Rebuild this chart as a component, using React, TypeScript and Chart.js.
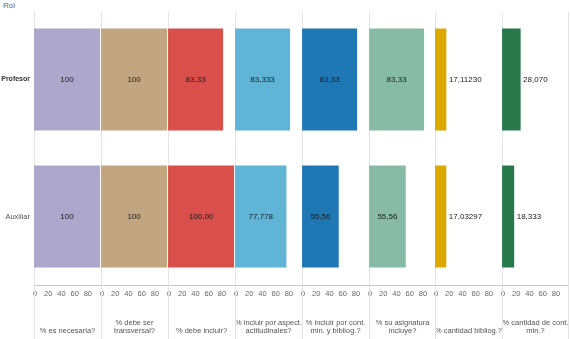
import React, { useEffect, useRef } from 'react';
import { Chart, registerables } from 'chart.js';

Chart.register(...registerables);

const roles = ['Profesor', 'Auxiliar'];
const measures: string[][] = [
  ['% es necesaria?'],
  ['% debe ser', 'transversal?'],
  ['% debe incluir?'],
  ['% incluir por aspect.', 'actitudinales?'],
  ['% incluir por cont.', 'min. y bibliog.?'],
  ['% su asignatura', 'incluye?'],
  ['% cantidad bibliog.?'],
  ['% cantidad de cont.', 'min.?'],
];
const profesorValues = [100, 100, 83.33, 83.333, 83.33, 83.33, 17.1123, 28.07];
const auxiliarValues = [100, 100, 100, 77.778, 55.56, 55.56, 17.03297, 18.333];
const profesorLabels = ['100', '100', '83,33', '83,333', '83,33', '83,33', '17,11230', '28,070'];
const auxiliarLabels = ['100', '100', '100,00', '77,778', '55,56', '55,56', '17,03297', '18,333'];
const barColors = ['#ADA7CB', '#C2A581', '#D84F4C', '#60B4D6', '#1F77B4', '#87BBA6', '#DBA901', '#27784A'];
const xTicks = [0, 20, 40, 60, 80];

const FONT = "'Liberation Sans', Arial, sans-serif";
const PAD = 6;
const PANEL_W = 67;

const separatorPlugin = {
  id: 'separator',
  beforeDatasetsDraw(chart: any, _args: any, opts: any) {
    const { ctx, chartArea } = chart;
    ctx.save();
    ctx.strokeStyle = '#e4e4e4';
    ctx.lineWidth = 1;
    ctx.beginPath();
    const x = Math.round(chartArea.left) + 0.5;
    ctx.moveTo(x, 12);
    ctx.lineTo(x, chart.height);
    if (opts && opts.last) {
      const xr = Math.round(chartArea.right) - 0.5;
      ctx.moveTo(xr, 12);
      ctx.lineTo(xr, chart.height);
    }
    ctx.stroke();
    ctx.restore();
  },
};

const valuePlugin = {
  id: 'valueText',
  afterDatasetsDraw(chart: any) {
    const { ctx } = chart;
    ctx.save();
    ctx.font = `8px ${FONT}`;
    ctx.fillStyle = '#1c1c1c';
    ctx.textBaseline = 'middle';
    chart.data.datasets.forEach((ds: any, di: number) => {
      const meta = chart.getDatasetMeta(di);
      meta.data.forEach((bar: any, i: number) => {
        const text = ds.valueLabels[i];
        const w = ctx.measureText(text).width;
        const barW = bar.x - bar.base;
        if (barW > w + 6) {
          ctx.textAlign = 'center';
          ctx.fillText(text, (bar.x + bar.base) / 2, bar.y);
        } else {
          ctx.textAlign = 'left';
          ctx.fillText(text, bar.x + 2.5, bar.y);
        }
      });
    });
    ctx.restore();
  },
};

function Panel({ index }: { index: number }) {
  const ref = useRef<HTMLCanvasElement>(null);
  const first = index === 0;
  const last = index === measures.length - 1;
  const lineX = Math.round(34 + index * 66.9);
  const left = first ? 0 : lineX - PAD;
  const width = first ? lineX + PANEL_W : PANEL_W + PAD;

  useEffect(() => {
    const chart = new Chart(ref.current as HTMLCanvasElement, {
      type: 'bar',
      data: {
        labels: roles,
        datasets: [
          {
            data: [profesorValues[index], auxiliarValues[index]],
            valueLabels: [profesorLabels[index], auxiliarLabels[index]],
            backgroundColor: barColors[index],
            borderWidth: 0,
            barPercentage: 0.745,
            categoryPercentage: 1,
          } as any,
        ],
      },
      options: {
        indexAxis: 'y',
        responsive: false,
        animation: false,
        devicePixelRatio: 1,
        layout: { autoPadding: false, padding: { left: first ? 0 : PAD, right: 0, top: 11, bottom: 0 } },
        plugins: {
          legend: { display: false },
          tooltip: { enabled: false },
          separator: { last },
        } as any,
        scales: {
          x: {
            type: 'linear',
            min: 0,
            max: 101.4,
            afterBuildTicks: (s: any) => {
              s.ticks = xTicks.map((v) => ({ value: v }));
            },
            afterFit: (s: any) => {
              s.height = 54;
            },
            grid: { display: false, drawTicks: false },
            border: { display: true, dash: [1, 2], color: '#c4c4c4' },
            ticks: {
              font: { family: FONT, size: 7.5 },
              color: '#666',
              padding: 4,
              maxRotation: 0,
              autoSkip: false,
              labelOffset: 1,
            },
            title: {
              display: true,
              text: measures[index],
              font: { family: FONT, size: 7.5, lineHeight: 1.15 },
              color: '#555',
              padding: { top: 0, bottom: 3.5 },
            },
          },
          y: {
            type: 'category',
            display: first,
            grid: { display: false, drawTicks: false },
            border: { display: false },
            afterFit: (s: any) => {
              s.width = first ? 34 : 0;
            },
            ticks: {
              padding: 4,
              color: (c: any) => (c.index === 0 ? '#333' : '#555'),
              font: (c: any) => ({ family: FONT, size: c.index === 0 ? 7 : 7.5, weight: c.index === 0 ? 'bold' : 'normal' }),
            },
          },
        },
      } as any,
      plugins: [separatorPlugin, valuePlugin],
    });
    return () => chart.destroy();
  }, []);

  return (
    <canvas
      ref={ref}
      width={width}
      height={339}
      style={{ position: 'absolute', left, top: 0, width, height: 339 }}
    />
  );
}

export default function App() {
  useEffect(() => {
    document.body.style.margin = '0';
  }, []);
  return (
    <div style={{ position: 'relative', width: 570, height: 339, background: '#fff', overflow: 'hidden' }}>
      <div
        style={{
          position: 'absolute',
          left: 3,
          top: 1,
          fontFamily: FONT,
          fontSize: 8,
          color: '#666',
        }}
      >
        Rol
      </div>
      {measures.map((_, i) => (
        <Panel key={i} index={i} />
      ))}
    </div>
  );
}
